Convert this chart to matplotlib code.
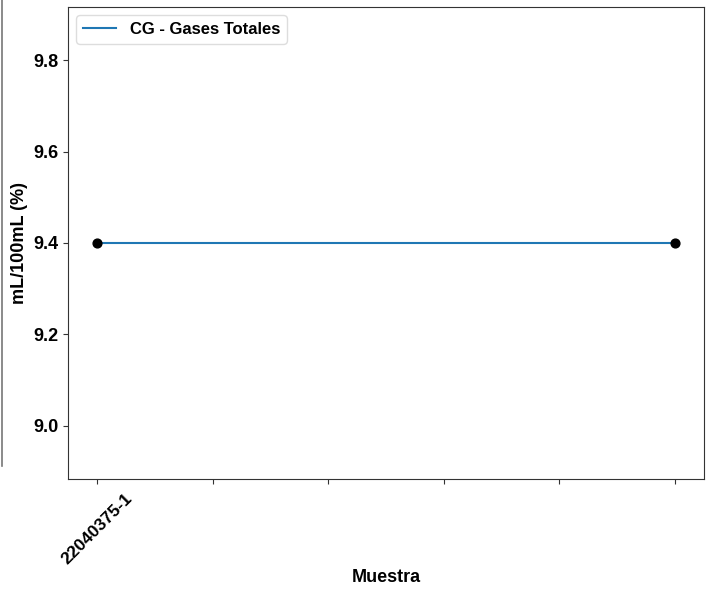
import matplotlib
matplotlib.use('Agg')
import matplotlib.pyplot as plt
from matplotlib.lines import Line2D

plt.rcParams['font.family'] = ['Liberation Sans', 'DejaVu Sans']
plt.rcParams['font.weight'] = 'bold'

# data
x_pos = [0, 1, 2, 3, 4, 5]
tick_labels = ['22040375-1', '', '', '', '', '']
point_x = [0, 5]
point_y = [9.4, 9.4]
series_name = 'CG - Gases Totales'

fig = plt.figure(figsize=(7.1, 5.91), dpi=100)
ax = fig.add_axes([68/710, 1 - 479/591, (704-68)/710, (479-7)/591])

ax.plot(point_x, point_y, color='#1f77b4', linewidth=1.5, label=series_name)
ax.scatter(point_x, point_y, color='black', s=40, zorder=3)

ax.set_xlim(-0.25, 5.25)
ax.set_ylim(8.883, 9.917)
ax.set_xticks(x_pos)
ax.set_xticklabels(tick_labels, rotation=45, ha='center',
                   fontsize=12.5, fontweight='bold')
ax.set_yticks([9.0, 9.2, 9.4, 9.6, 9.8])
ax.set_yticklabels(['9.0', '9.2', '9.4', '9.6', '9.8'], fontsize=13, fontweight='bold')
ax.tick_params(colors='#333333', labelcolor='black')
ax.tick_params(axis='x', pad=5)
for s in ax.spines.values():
    s.set_color('#333333')

fig.text(386/710, 1 - 577/591, 'Muestra', fontsize=13, fontweight='bold',
         ha='center', va='center')
fig.text(20/710, 1 - 243/591, 'mL/100mL (%)', fontsize=13, fontweight='bold',
         ha='center', va='center', rotation=90)

leg = ax.legend(loc='upper left', prop={'weight': 'bold', 'size': 12}, fancybox=True,
                framealpha=1, edgecolor='#dddddd', handlelength=2.0)

# partial border at left edge
fig.add_artist(Line2D([2/710, 2/710], [1, 1 - 466/591], color='#777777', linewidth=1.2,
                      transform=fig.transFigure))

fig.savefig('out.png', dpi=100)
